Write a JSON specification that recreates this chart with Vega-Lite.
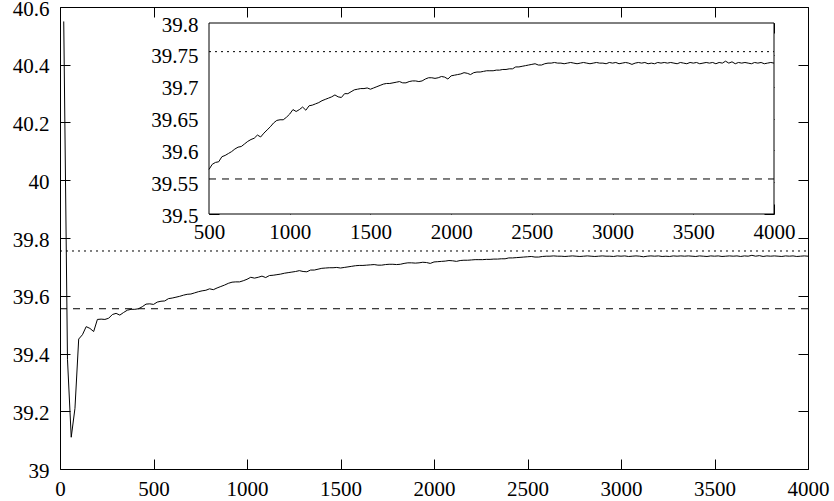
{
  "$schema": "https://vega.github.io/schema/vega-lite/v6.json",
  "width": 748,
  "height": 462,
  "autosize": "none",
  "padding": {"left": 60, "top": 7, "right": 26, "bottom": 32},
  "background": "white",
  "config": {
    "view": {"stroke": "black", "strokeWidth": 1},
    "axis": {
      "labelFont": "Liberation Serif, Times New Roman, serif",
      "labelFontSize": 21,
      "labelColor": "black",
      "tickColor": "black",
      "tickWidth": 1,
      "domain": false,
      "grid": false,
      "labelFlush": false,
      "labelOverlap": false,
      "title": null
    }
  },
  "datasets": {
    "s": [
      {"x": 20, "y": 40.55}, {"x": 40, "y": 39.38}, {"x": 60, "y": 39.11}, {"x": 80, "y": 39.21},
      {"x": 100, "y": 39.45}, {"x": 120, "y": 39.465}, {"x": 140, "y": 39.493}, {"x": 160, "y": 39.487},
      {"x": 180, "y": 39.476}, {"x": 200, "y": 39.518}, {"x": 220, "y": 39.519}, {"x": 240, "y": 39.518},
      {"x": 260, "y": 39.522}, {"x": 280, "y": 39.535}, {"x": 300, "y": 39.539}, {"x": 320, "y": 39.533},
      {"x": 340, "y": 39.542}, {"x": 360, "y": 39.55}, {"x": 380, "y": 39.553}, {"x": 400, "y": 39.553},
      {"x": 420, "y": 39.555}, {"x": 440, "y": 39.562}, {"x": 460, "y": 39.571}, {"x": 480, "y": 39.572},
      {"x": 500, "y": 39.57}, {"x": 520, "y": 39.578}, {"x": 540, "y": 39.581}, {"x": 560, "y": 39.582},
      {"x": 580, "y": 39.59}, {"x": 600, "y": 39.592}, {"x": 620, "y": 39.595}, {"x": 640, "y": 39.598},
      {"x": 660, "y": 39.602}, {"x": 680, "y": 39.605}, {"x": 700, "y": 39.606}, {"x": 720, "y": 39.61},
      {"x": 740, "y": 39.614}, {"x": 760, "y": 39.617}, {"x": 780, "y": 39.619}, {"x": 800, "y": 39.624},
      {"x": 820, "y": 39.621}, {"x": 840, "y": 39.627}, {"x": 860, "y": 39.632}, {"x": 880, "y": 39.637},
      {"x": 900, "y": 39.643}, {"x": 920, "y": 39.647}, {"x": 940, "y": 39.648}, {"x": 960, "y": 39.648},
      {"x": 980, "y": 39.652}, {"x": 1000, "y": 39.657}, {"x": 1020, "y": 39.664}, {"x": 1040, "y": 39.661},
      {"x": 1060, "y": 39.664}, {"x": 1080, "y": 39.668}, {"x": 1100, "y": 39.663}, {"x": 1120, "y": 39.67},
      {"x": 1140, "y": 39.671}, {"x": 1160, "y": 39.673}, {"x": 1180, "y": 39.675}, {"x": 1200, "y": 39.678},
      {"x": 1220, "y": 39.68}, {"x": 1240, "y": 39.682}, {"x": 1260, "y": 39.684}, {"x": 1280, "y": 39.687},
      {"x": 1300, "y": 39.684}, {"x": 1320, "y": 39.683}, {"x": 1340, "y": 39.689}, {"x": 1360, "y": 39.689},
      {"x": 1380, "y": 39.692}, {"x": 1400, "y": 39.695}, {"x": 1420, "y": 39.696}, {"x": 1440, "y": 39.697},
      {"x": 1460, "y": 39.697}, {"x": 1480, "y": 39.698}, {"x": 1500, "y": 39.696}, {"x": 1520, "y": 39.698},
      {"x": 1540, "y": 39.7}, {"x": 1560, "y": 39.702}, {"x": 1580, "y": 39.704}, {"x": 1600, "y": 39.705},
      {"x": 1620, "y": 39.705}, {"x": 1640, "y": 39.706}, {"x": 1660, "y": 39.707}, {"x": 1680, "y": 39.708},
      {"x": 1700, "y": 39.706}, {"x": 1720, "y": 39.706}, {"x": 1740, "y": 39.708}, {"x": 1760, "y": 39.709},
      {"x": 1780, "y": 39.709}, {"x": 1800, "y": 39.708}, {"x": 1820, "y": 39.709}, {"x": 1840, "y": 39.712},
      {"x": 1860, "y": 39.714}, {"x": 1880, "y": 39.714}, {"x": 1900, "y": 39.713}, {"x": 1920, "y": 39.714},
      {"x": 1940, "y": 39.716}, {"x": 1960, "y": 39.715}, {"x": 1980, "y": 39.712}, {"x": 2000, "y": 39.717},
      {"x": 2020, "y": 39.718}, {"x": 2040, "y": 39.719}, {"x": 2060, "y": 39.72}, {"x": 2080, "y": 39.722},
      {"x": 2100, "y": 39.721}, {"x": 2120, "y": 39.719}, {"x": 2140, "y": 39.722}, {"x": 2160, "y": 39.723},
      {"x": 2180, "y": 39.723}, {"x": 2200, "y": 39.724}, {"x": 2220, "y": 39.725}, {"x": 2240, "y": 39.725},
      {"x": 2260, "y": 39.725}, {"x": 2280, "y": 39.726}, {"x": 2300, "y": 39.726}, {"x": 2320, "y": 39.727},
      {"x": 2340, "y": 39.727}, {"x": 2360, "y": 39.728}, {"x": 2380, "y": 39.728}, {"x": 2400, "y": 39.731},
      {"x": 2420, "y": 39.731}, {"x": 2440, "y": 39.732}, {"x": 2460, "y": 39.733}, {"x": 2480, "y": 39.734},
      {"x": 2500, "y": 39.735}, {"x": 2520, "y": 39.736}, {"x": 2540, "y": 39.734}, {"x": 2560, "y": 39.734},
      {"x": 2580, "y": 39.736}, {"x": 2600, "y": 39.737}, {"x": 2620, "y": 39.737}, {"x": 2640, "y": 39.738},
      {"x": 2660, "y": 39.737}, {"x": 2680, "y": 39.737}, {"x": 2700, "y": 39.736}, {"x": 2720, "y": 39.737},
      {"x": 2740, "y": 39.738}, {"x": 2760, "y": 39.737}, {"x": 2780, "y": 39.736}, {"x": 2800, "y": 39.737},
      {"x": 2820, "y": 39.738}, {"x": 2840, "y": 39.737}, {"x": 2860, "y": 39.736}, {"x": 2880, "y": 39.737},
      {"x": 2900, "y": 39.738}, {"x": 2920, "y": 39.737}, {"x": 2940, "y": 39.737}, {"x": 2960, "y": 39.736},
      {"x": 2980, "y": 39.738}, {"x": 3000, "y": 39.737}, {"x": 3020, "y": 39.738}, {"x": 3040, "y": 39.736},
      {"x": 3060, "y": 39.737}, {"x": 3080, "y": 39.738}, {"x": 3100, "y": 39.737}, {"x": 3120, "y": 39.735},
      {"x": 3140, "y": 39.737}, {"x": 3160, "y": 39.738}, {"x": 3180, "y": 39.737}, {"x": 3200, "y": 39.738},
      {"x": 3220, "y": 39.736}, {"x": 3240, "y": 39.737}, {"x": 3260, "y": 39.736}, {"x": 3280, "y": 39.738},
      {"x": 3300, "y": 39.737}, {"x": 3320, "y": 39.738}, {"x": 3340, "y": 39.737}, {"x": 3360, "y": 39.738},
      {"x": 3380, "y": 39.737}, {"x": 3400, "y": 39.736}, {"x": 3420, "y": 39.738}, {"x": 3440, "y": 39.737},
      {"x": 3460, "y": 39.736}, {"x": 3480, "y": 39.738}, {"x": 3500, "y": 39.737}, {"x": 3520, "y": 39.738},
      {"x": 3540, "y": 39.736}, {"x": 3560, "y": 39.737}, {"x": 3580, "y": 39.738}, {"x": 3600, "y": 39.737},
      {"x": 3620, "y": 39.738}, {"x": 3640, "y": 39.736}, {"x": 3660, "y": 39.738}, {"x": 3680, "y": 39.737},
      {"x": 3700, "y": 39.74}, {"x": 3720, "y": 39.737}, {"x": 3740, "y": 39.739}, {"x": 3760, "y": 39.736},
      {"x": 3780, "y": 39.738}, {"x": 3800, "y": 39.737}, {"x": 3820, "y": 39.738}, {"x": 3840, "y": 39.737},
      {"x": 3860, "y": 39.736}, {"x": 3880, "y": 39.738}, {"x": 3900, "y": 39.737}, {"x": 3920, "y": 39.738},
      {"x": 3940, "y": 39.736}, {"x": 3960, "y": 39.737}, {"x": 3980, "y": 39.738}, {"x": 4000, "y": 39.737}
    ]
  },
  "layer": [
    {
      "layer": [
        {
          "data": {"name": "s"},
          "mark": {"type": "line", "color": "black", "strokeWidth": 1},
          "encoding": {
            "x": {"field": "x", "type": "quantitative",
              "scale": {"domain": [0, 4000], "nice": false, "zero": false},
              "axis": {"orient": "bottom", "ticks": false, "labelPadding": 9, "format": "d",
                "values": [0, 500, 1000, 1500, 2000, 2500, 3000, 3500, 4000]}},
            "y": {"field": "y", "type": "quantitative",
              "scale": {"domain": [39, 40.6], "nice": false, "zero": false},
              "axis": {"orient": "left", "ticks": false, "labelPadding": 11, "labelOffset": 2, "format": "~g",
                "values": [39, 39.2, 39.4, 39.6, 39.8, 40, 40.2, 40.4, 40.6]}}
          }
        },
        {
          "data": {"values": [{}]},
          "mark": {"type": "rule", "color": "black", "strokeWidth": 1, "strokeDash": [2, 4]},
          "encoding": {
            "x": {"datum": 0, "type": "quantitative",
              "axis": {"orient": "bottom", "labels": false, "tickSize": -10,
                "values": [0, 500, 1000, 1500, 2000, 2500, 3000, 3500, 4000]}},
            "x2": {"datum": 4000},
            "y": {"datum": 39.755, "type": "quantitative",
              "axis": {"orient": "left", "labels": false, "tickSize": -10,
                "values": [39, 39.2, 39.4, 39.6, 39.8, 40, 40.2, 40.4, 40.6]}}
          }
        },
        {
          "data": {"values": [{}]},
          "mark": {"type": "rule", "color": "black", "strokeWidth": 1, "strokeDash": [7, 6]},
          "encoding": {
            "x": {"datum": 0, "type": "quantitative",
              "axis": {"orient": "top", "labels": false, "tickSize": -10,
                "values": [0, 500, 1000, 1500, 2000, 2500, 3000, 3500, 4000]}},
            "x2": {"datum": 4000},
            "y": {"datum": 39.555, "type": "quantitative",
              "axis": {"orient": "right", "labels": false, "tickSize": -10,
                "values": [39, 39.2, 39.4, 39.6, 39.8, 40, 40.2, 40.4, 40.6]}}
          }
        }
      ],
      "resolve": {"axis": {"x": "independent", "y": "independent"}}
    },
    {
      "layer": [
        {
          "data": {"values": [{}]},
          "mark": {"type": "rect", "fill": "white", "stroke": "black", "strokeWidth": 1},
          "encoding": {
            "x": {"datum": 500, "type": "quantitative",
              "scale": {"domain": [500, 4000], "range": [149, 714], "nice": false, "zero": false},
              "axis": {"orient": "bottom", "offset": -255, "ticks": false, "labelPadding": 7, "format": "d",
                "values": [500, 1000, 1500, 2000, 2500, 3000, 3500, 4000]}},
            "x2": {"datum": 4000},
            "y": {"datum": 39.5, "type": "quantitative",
              "scale": {"domain": [39.5, 39.8], "range": [207, 16], "nice": false, "zero": false},
              "axis": {"orient": "left", "offset": -149, "ticks": false, "labelPadding": 11, "labelOffset": 2, "format": "~g",
                "values": [39.5, 39.55, 39.6, 39.65, 39.7, 39.75, 39.8]}},
            "y2": {"datum": 39.8}
          }
        },
        {
          "data": {"values": [{}]},
          "mark": {"type": "rule", "color": "black", "strokeWidth": 1, "strokeDash": [2, 4]},
          "encoding": {
            "x": {"datum": 500, "type": "quantitative",
              "axis": {"orient": "bottom", "offset": -255, "labels": false, "tickSize": -10,
                "values": [500, 1000, 1500, 2000, 2500, 3000, 3500, 4000]}},
            "x2": {"datum": 4000},
            "y": {"datum": 39.755, "type": "quantitative",
              "axis": {"orient": "left", "offset": -149, "labels": false, "tickSize": -10,
                "values": [39.5, 39.55, 39.6, 39.65, 39.7, 39.75, 39.8]}}
          }
        },
        {
          "data": {"values": [{}]},
          "mark": {"type": "rule", "color": "black", "strokeWidth": 1, "strokeDash": [7, 6]},
          "encoding": {
            "x": {"datum": 500, "type": "quantitative",
              "axis": {"orient": "top", "offset": -16, "labels": false, "tickSize": -10,
                "values": [500, 1000, 1500, 2000, 2500, 3000, 3500, 4000]}},
            "x2": {"datum": 4000},
            "y": {"datum": 39.555, "type": "quantitative",
              "axis": {"orient": "right", "offset": -34, "labels": false, "tickSize": -10,
                "values": [39.5, 39.55, 39.6, 39.65, 39.7, 39.75, 39.8]}}
          }
        },
        {
          "data": {"name": "s"},
          "transform": [{"filter": "datum.x >= 500"}],
          "mark": {"type": "line", "color": "black", "strokeWidth": 1},
          "encoding": {
            "x": {"field": "x", "type": "quantitative", "axis": null},
            "y": {"field": "y", "type": "quantitative", "axis": null}
          }
        }
      ],
      "resolve": {"axis": {"x": "independent", "y": "independent"}}
    }
  ],
  "resolve": {"scale": {"x": "independent", "y": "independent"}}
}
